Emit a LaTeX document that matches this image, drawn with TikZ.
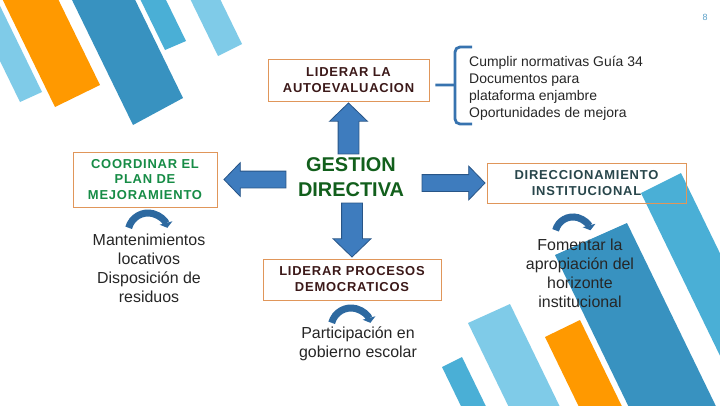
\documentclass[tikz,border=0pt]{standalone}
\usepackage{xcolor}
\usepackage{fontspec}
\setmainfont{Liberation Sans}
\newfontfamily\boxfont[LetterSpace=6]{Liberation Sans}
\usepackage{tikz}
\usetikzlibrary{positioning,shapes.arrows,arrows.meta}

\definecolor{stripelight}{RGB}{127,203,232}
\definecolor{stripeorange}{RGB}{255,153,0}
\definecolor{stripedark}{RGB}{56,146,192}
\definecolor{stripemid}{RGB}{74,175,214}
\definecolor{boxline}{RGB}{224,150,90}
\definecolor{textmaroon}{RGB}{60,25,25}
\definecolor{coordgreen}{RGB}{22,140,70}
\definecolor{gestiongreen}{RGB}{18,95,28}
\definecolor{slatetext}{RGB}{40,70,75}
\definecolor{arrowfill}{RGB}{62,124,190}
\definecolor{arrowline}{RGB}{40,85,135}
\definecolor{curlblue}{RGB}{45,105,160}
\definecolor{bracketblue}{RGB}{55,115,175}
\definecolor{pagenum}{RGB}{90,160,200}

\begin{document}
\begin{tikzpicture}[
  x=1bp, y=-1bp,
  box/.style={draw=boxline, line width=0.8bp, inner sep=0pt, align=center,
              text=#1, font=\boxfont\bfseries\fontsize{13}{16}\selectfont},
  note/.style={inner sep=0pt, align=center, text=black!85, font=\fontsize{16}{19}\selectfont},
  blockarrow/.style={single arrow, draw=arrowline, fill=arrowfill, line width=0.8bp,
              inner sep=#1, single arrow head extend=8.5bp, single arrow tip angle=92},
  curl/.style={line width=7bp, draw=curlblue, -{Triangle[length=5bp,width=13bp]}},
  bracket/.style={line width=2.8bp, draw=bracketblue, rounded corners=5bp}
]
  \useasboundingbox (0,0) rectangle (720,405);
  \fill[white] (0,0) rectangle (720,405);

  % stripes
  \begin{scope}
    \clip (0,0) rectangle (720,405);
    \foreach \c/\ax/\ay/\bx/\by in {stripelight/20/102/42/92, stripeorange/55/107/100/85,
        stripedark/133/125/183/98, stripemid/165/50/186/41, stripelight/218/56/242/44}
      \fill[\c] (\ax,\ay) -- (\bx,\by) -- ++(-80,-164) -- ++(\ax-\bx,\ay-\by) -- cycle;
    \foreach \c/\ax/\ay/\bx/\by in {stripedark/555/255/627/223, stripemid/641/193/681/173,
        stripeorange/545/337/580/320, stripelight/468/323/510/304, stripemid/442/367/462/357}
      \fill[\c] (\ax,\ay) -- (\bx,\by) -- ++(100,206) -- ++(\ax-\bx,\ay-\by) -- cycle;
  \end{scope}

  \node[font=\fontsize{9}{9}\selectfont, text=pagenum] (page) at (705,17) {8};

  % boxes
  \node[font=\bfseries\fontsize{20}{24.5}\selectfont, text=gestiongreen, align=center] (gestion) at (351,177) {GESTION\\DIRECTIVA};
  \node[box=textmaroon, minimum width=161bp, minimum height=42bp] (lider) at (348.5,80) {LIDERAR LA\\AUTOEVALUACION};
  \node[box=coordgreen, minimum width=144bp, minimum height=55bp] (coord) at (145,179.5) {COORDINAR EL\\PLAN DE\\MEJORAMIENTO};
  \node[box=slatetext, minimum width=199bp, minimum height=40bp] (direcc) at (586.5,183) {DIRECCIONAMIENTO\\INSTITUCIONAL};
  \node[box=textmaroon, minimum width=178bp, minimum height=41bp] (procesos) at (352,279.5) {LIDERAR PROCESOS\\DEMOCRATICOS};

  % notes
  \node[note, anchor=north] (mant) at (149,234) {Mantenimientos\\locativos\\Disposición de\\residuos};
  \node[note, anchor=north] (fomentar) at (580,239) {Fomentar la\\apropiación del\\horizonte\\institucional};
  \node[note, anchor=north] (particip) at (358,327) {Participación en\\gobierno escolar};
  \node[note, anchor=north west, align=left, font=\fontsize{14}{17}\selectfont] (cumplir) at (469,56)
    {Cumplir normativas Guía 34\\Documentos para\\plataforma enjambre\\Oportunidades de mejora};

  % block arrows
  \node[blockarrow=10bp, minimum height=51bp, shape border rotate=90, anchor=tip] (toLider) at ([yshift=-1bp]lider.south) {};
  \node[blockarrow=10bp, minimum height=54bp, shape border rotate=270, anchor=tip] (toProcesos) at ([yshift=1bp]procesos.north) {};
  \node[blockarrow=8bp, minimum height=62bp, shape border rotate=180, anchor=tip] (toCoord) at ([xshift=6bp]coord.east) {};
  \node[blockarrow=8bp, minimum height=63bp, anchor=tip] (toDirecc) at ([xshift=-1bp]direcc.west) {};

  % bracket
  \coordinate (bracemid) at (455,85);
  \draw[bracket] (472,47) -- (455,47) -- (bracemid) -- (455,124) -- (472,124);
  \draw[bracket] ([xshift=6bp,yshift=-5bp]lider.east) -- (bracemid);

  % curls
  \draw[curl] (128.7,227.8) arc[start angle=195, end angle=345, radius=20];
  \draw[curl] (331.7,322.8) arc[start angle=195, end angle=345, radius=20];
  \draw[curl] (555.6,230.3) arc[start angle=195, end angle=345, radius=18];
\end{tikzpicture}
\end{document}
